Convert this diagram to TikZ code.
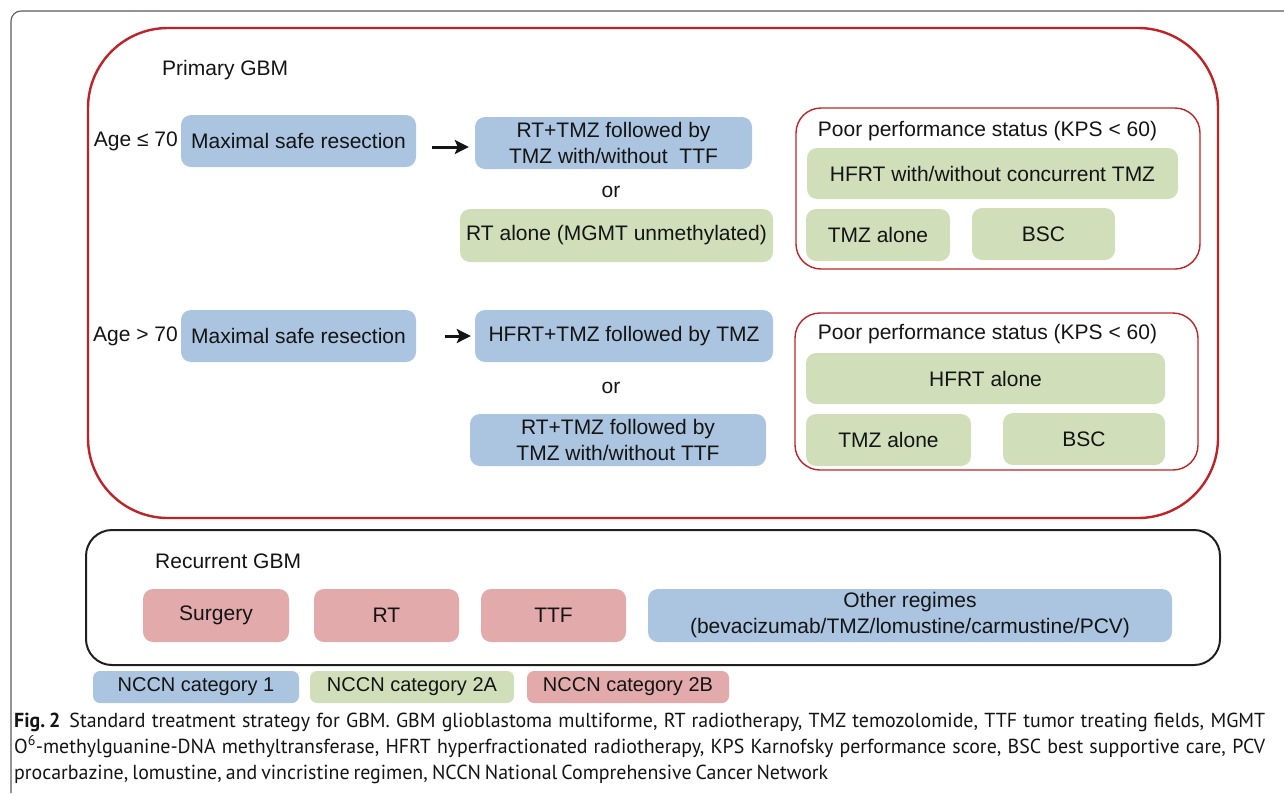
\documentclass[tikz,border=0pt]{standalone}
\usepackage{fontspec}
\setmainfont{Liberation Sans}
\newfontfamily\capfont[FakeStretch=0.98]{PT Sans}
\usetikzlibrary{arrows.meta}
\definecolor{cblue}{RGB}{171,197,224}
\definecolor{cgreen}{RGB}{208,223,186}
\definecolor{cpink}{RGB}{227,170,172}
\definecolor{cred}{RGB}{190,35,40}
\definecolor{ctxt}{RGB}{20,20,20}
\definecolor{cframe}{RGB}{90,90,90}
\begin{document}
\begin{tikzpicture}[x=1pt,y=-1pt,
  every node/.style={text=ctxt},
  bx/.style={rounded corners=10pt, inner sep=0pt, align=center, font=\fontsize{21}{26}\selectfont},
  sz/.style 2 args={minimum width=#1pt, minimum height=#2pt},
  bbox/.style={bx, fill=cblue},
  gbox/.style={bx, fill=cgreen},
  pbox/.style={bx, fill=cpink},
  lbl/.style={inner sep=0pt, font=\fontsize{21}{26}\selectfont},
  subframe/.style={draw=cred, line width=1.4pt, rounded corners=25pt, inner sep=0pt},
  leg/.style={rounded corners=7pt, inner sep=0pt, font=\fontsize{20}{24}\selectfont, minimum height=32pt},
  arr/.style={line width=3pt, ctxt, -{Stealth[length=14pt,width=14pt,inset=3pt]}},
  captext/.style={inner sep=0pt, anchor=base west, font=\capfont\fontsize{20.3}{26}\selectfont}
]
\useasboundingbox (0,0) rectangle (1284,793);
% page frame
\draw[cframe, line width=1.1pt, rounded corners=10pt] (11,793) -- (11,11) -- (1284,11);

% primary container
\node (primary) [draw=cred, line width=2.4pt, rounded corners=80pt, sz={1130}{490}, inner sep=0pt] at (653,273) {};
\node (ptitle) [lbl, anchor=west] at (162,70) {Primary GBM};

% row 1
\node (age1) [lbl, anchor=east] at (178,141) {Age ≤ 70};
\node (msr1) [bbox, sz={235}{52}] at (298.5,141) {Maximal safe resection};
\node (rt1) [bbox, sz={277}{52}] at (613.5,143) {RT+TMZ followed by\\TMZ with/without\ \ TTF};
\node (or1) [lbl] at (611,192) {or};
\node (rtalone) [gbox, sz={313}{53}] at (616.5,235.5) {RT alone (MGMT unmethylated)};
\draw[arr] ([shift={(16,6)}]msr1.east) -- ([shift={(-6,4)}]rt1.west);

\node (pps1) [subframe, sz={404}{161}] at (998,188.5) {};
\node (pps1t) [lbl] at (987.5,131) {Poor performance status (KPS < 60)};
\node (hfrt1) [gbox, sz={371}{51}] at (992.5,173.5) {HFRT with/without concurrent TMZ};
\node (tmz1) [gbox, sz={144}{52}] at (878,235) {TMZ alone};
\node (bsc1) [gbox, sz={143}{52}] at (1043.5,234) {BSC};

% row 2
\node (age2) [lbl, anchor=east] at (178,336) {Age > 70};
\node (msr2) [bbox, sz={235}{52}] at (298.5,336) {Maximal safe resection};
\node (hfrttmz) [bbox, sz={298}{52}] at (624,336) {HFRT+TMZ followed by TMZ};
\node (or2) [lbl] at (611,388) {or};
\node (rt2) [bbox, sz={296}{52}] at (618,440) {RT+TMZ followed by\\TMZ with/without TTF};
\draw[arr] ([xshift=29pt]msr2.east) -- ([xshift=-4pt]hfrttmz.west);

\node (pps2) [subframe, sz={403}{157}] at (996.5,391.5) {};
\node (pps2t) [lbl] at (987.5,334) {Poor performance status (KPS < 60)};
\node (hfrta) [gbox, sz={359}{51}] at (985.5,378.5) {HFRT alone};
\node (tmz2) [gbox, sz={165}{52}] at (888.5,440) {TMZ alone};
\node (bsc2) [gbox, sz={162}{52}] at (1084,439) {BSC};

% recurrent
\node (recur) [draw=black!88, line width=2pt, rounded corners=26pt, sz={1134}{135}, inner sep=0pt] at (653,597.5) {};
\node (rtitle) [lbl, anchor=west] at (155,561) {Recurrent GBM};
\node (surg) [pbox, sz={146}{53}] at (216,615.5) {Surgery};
\node (rtr) [pbox, sz={145}{53}] at (386.5,615.5) {RT};
\node (ttf) [pbox, sz={145}{53}] at (553.5,615.5) {TTF};
\node (other) [bbox, sz={524}{53}] at (910,615.5) {Other regimes\\(bevacizumab/TMZ/lomustine/carmustine/PCV)};

% legend
\node (leg1) [leg, fill=cblue, minimum width=206pt] at (196,687) {NCCN category 1};
\node (leg2) [leg, fill=cgreen, minimum width=204pt] at (412,687) {NCCN category 2A};
\node (leg3) [leg, fill=cpink, minimum width=202pt] at (628,687) {NCCN category 2B};

% caption
\node (cap1) [captext] at (14,727) {\makebox[1251pt][s]{\textbf{Fig.\hspace{4pt}2}\hspace{9pt}Standard treatment strategy for GBM. GBM glioblastoma multiforme, RT radiotherapy, TMZ temozolomide, TTF tumor treating fields, MGMT}};
\node (cap2) [captext] at (14,753) {\makebox[1251pt][s]{O\textsuperscript{6}-methylguanine-DNA methyltransferase, HFRT hyperfractionated radiotherapy, KPS Karnofsky performance score, BSC best supportive care, PCV}};
\node (cap3) [captext] at (14,779) {\makebox[814pt][s]{procarbazine, lomustine, and vincristine regimen, NCCN National Comprehensive Cancer Network}};
\end{tikzpicture}
\end{document}
